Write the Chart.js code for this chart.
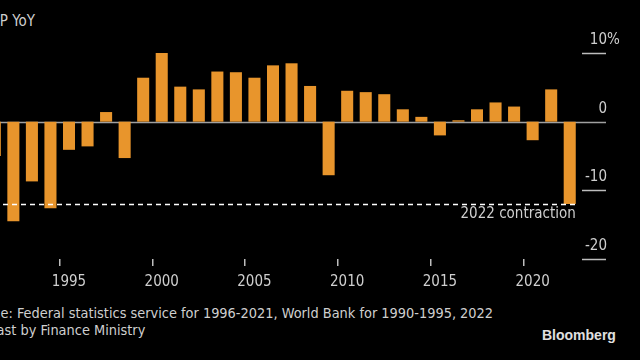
<!DOCTYPE html>
<html>
<head>
<meta charset="utf-8">
<script src="https://cdn.jsdelivr.net/npm/chart.js@4"></script>
<style>
  html, body { margin: 0; padding: 0; background: #000; }
  body { width: 640px; height: 360px; overflow: hidden; position: relative;
         font-family: 'DejaVu Sans Condensed', 'Liberation Sans Narrow', sans-serif; color: #cfcfcf; }
  #title { position: absolute; right: 605px; top: 12px; font-size: 15px; white-space: nowrap; }
  #wrap { position: absolute; left: -40px; top: 0; width: 680px; height: 298px; }
  #note { position: absolute; left: -36px; top: 305px; font-size: 14.4px; line-height: 17px; white-space: nowrap; }
  #logo { position: absolute; left: 542px; top: 327px; font: bold 14px 'Liberation Sans', Arial, sans-serif; color: #e0e0e0; }
</style>
</head>
<body>
<div id="title">GDP YoY</div>
<div id="wrap"><canvas id="c"></canvas></div>
<div id="note">Source: Federal statistics service for 1996-2021, World Bank for 1990-1995, 2022<br>forecast by Finance Ministry</div>
<div id="logo">Bloomberg</div>
<script>
// Russia GDP, % change year on year
const years = [1990, 1991, 1992, 1993, 1994, 1995, 1996, 1997, 1998, 1999,
               2000, 2001, 2002, 2003, 2004, 2005, 2006, 2007, 2008, 2009,
               2010, 2011, 2012, 2013, 2014, 2015, 2016, 2017, 2018, 2019,
               2020, 2021, 2022];
const gdpYoY = [-3.0, -5.0, -14.5, -8.7, -12.6, -4.1, -3.6, 1.4, -5.3, 6.4,
                10.0, 5.1, 4.7, 7.3, 7.2, 6.4, 8.2, 8.5, 5.2, -7.8,
                4.5, 4.3, 4.0, 1.8, 0.7, -2.0, 0.2, 1.8, 2.8, 2.2,
                -2.7, 4.7, -12.0];
const xLabelYears = [1995, 2000, 2005, 2010, 2015, 2020];
const yTicks = [10, 0, -10, -20];
const contraction = -12;
const contractionLabel = '2022 contraction';

const FONT = "'DejaVu Sans Condensed', 'Liberation Sans Narrow', sans-serif";
const TEXT = '#cfcfcf';

// zero line, right-hand tick labels, dashed forecast line
const overlay = {
  id: 'overlay',
  beforeDatasetsDraw(chart) {
    const ctx = chart.ctx, y = chart.scales.y, a = chart.chartArea;
    ctx.save();
    ctx.strokeStyle = '#a0a0a0';
    ctx.lineWidth = 1.5;
    const y0 = Math.round(y.getPixelForValue(0)) + 0.5;
    ctx.beginPath(); ctx.moveTo(a.left, y0); ctx.lineTo(a.right + 27, y0); ctx.stroke();
    ctx.restore();
  },
  afterDatasetsDraw(chart) {
    const ctx = chart.ctx, y = chart.scales.y, a = chart.chartArea;
    const gx0 = a.right + 3, gx1 = a.right + 27;
    ctx.save();
    ctx.font = '15px ' + FONT;
    ctx.fillStyle = TEXT;
    ctx.textBaseline = 'middle';
    yTicks.forEach(v => {
      const py = Math.round(y.getPixelForValue(v)) + 0.5;
      if (v !== 0) {
        ctx.strokeStyle = '#bdbdbd';
        ctx.lineWidth = 1.5;
        ctx.beginPath(); ctx.moveTo(gx0, py); ctx.lineTo(gx1, py); ctx.stroke();
      }
      ctx.textAlign = 'right';
      ctx.fillText(String(v), gx1 + 1, py - 13);
      if (v === yTicks[0]) { ctx.textAlign = 'left'; ctx.fillText('%', gx1 + 1, py - 13); }
    });
    // dashed line at the 2022 contraction level
    const meta = chart.getDatasetMeta(0);
    const last = meta.data[meta.data.length - 1];
    const xEnd = last.x + last.width / 2;
    const yc = Math.round(y.getPixelForValue(contraction)) + 0.5;
    ctx.strokeStyle = '#ffffff';
    ctx.lineWidth = 1.3;
    ctx.setLineDash([5, 4]);
    ctx.beginPath(); ctx.moveTo(a.left, yc); ctx.lineTo(xEnd, yc); ctx.stroke();
    ctx.setLineDash([]);
    ctx.textAlign = 'right';
    ctx.textBaseline = 'top';
    ctx.fillText(contractionLabel, xEnd, yc + 2);
    ctx.restore();
  }
};

new Chart(document.getElementById('c'), {
  type: 'bar',
  data: {
    labels: years,
    datasets: [{
      data: gdpYoY,
      backgroundColor: '#e8952c',
      barPercentage: 0.65,
      categoryPercentage: 1.0
    }]
  },
  options: {
    responsive: true,
    maintainAspectRatio: false,
    animation: false,
    layout: { padding: { left: 7, right: 61, top: 53, bottom: 0 } },
    plugins: { legend: { display: false }, tooltip: { enabled: false } },
    scales: {
      y: { display: false, min: -20, max: 10 },
      x: {
        offset: true,
        border: { display: false },
        grid: {
          drawOnChartArea: false,
          drawTicks: true,
          tickLength: 7,
          lineWidth: 1.5,
          color: c => (xLabelYears.includes(years[c.index]) ? '#bdbdbd' : 'rgba(0,0,0,0)')
        },
        ticks: {
          autoSkip: false,
          maxRotation: 0,
          padding: 7,
          color: TEXT,
          font: { family: FONT, size: 15 },
          callback: (v, i) => (xLabelYears.includes(years[i]) ? String(years[i]) : '')
        }
      }
    }
  },
  plugins: [overlay]
});
</script>
</body>
</html>
